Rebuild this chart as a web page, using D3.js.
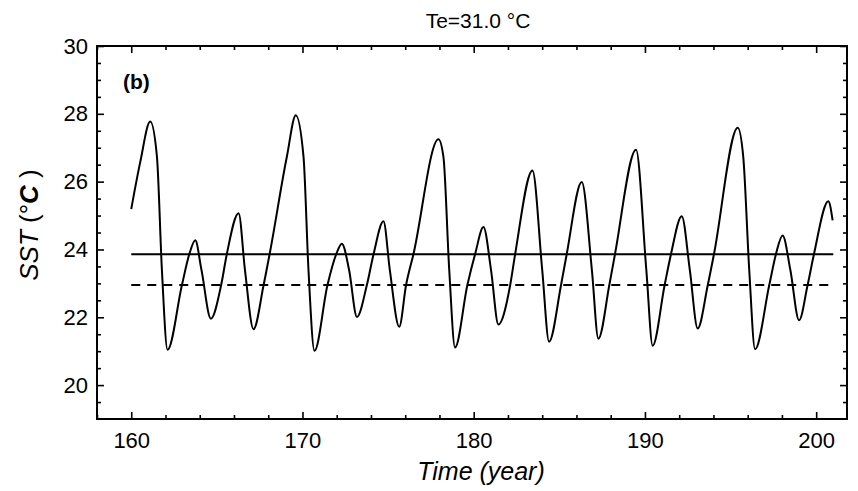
<!DOCTYPE html>
<html>
<head>
<meta charset="utf-8">
<script src="https://cdn.jsdelivr.net/npm/d3@7/dist/d3.min.js"></script>
<style>
  html, body { margin: 0; padding: 0; background: #fff; }
  svg { display: block; font-family: Arial, "Liberation Sans", sans-serif; }
</style>
</head>
<body>
<svg id="chart" width="858" height="491"></svg>
<script>
// ---- data (extrema and level crossings) ----
const years = [
  160.00, 160.53, 161.11, 161.50, 161.79, 162.12, 162.96, 163.39, 163.74, 164.10,
  164.65, 165.25, 165.58, 166.27, 166.64, 167.14, 167.73, 168.08, 169.09, 169.61,
  170.06, 170.35, 170.70, 171.46, 171.97, 172.30, 172.72, 173.18, 173.76, 174.15,
  174.73, 175.10, 175.65, 176.05, 176.48, 177.94, 178.23, 178.57, 178.91, 179.63,
  180.08, 180.57, 181.01, 181.44, 182.13, 182.42, 183.43, 184.00, 184.40, 185.10,
  185.43, 186.31, 186.90, 187.28, 187.92, 188.25, 189.48, 190.08, 190.45, 191.15,
  191.52, 192.15, 192.62, 193.08, 193.67, 194.03, 195.42, 195.74, 196.09, 196.43,
  197.26, 197.65, 198.04, 198.49, 199.00, 199.50, 199.87, 200.71, 200.96
];
const sst = [
  25.19, 26.59, 27.77, 26.74, 23.40, 21.04, 22.95, 23.86, 24.27, 23.40,
  21.96, 22.95, 23.86, 25.07, 23.40, 21.65, 22.95, 23.86, 26.74, 27.96,
  26.74, 23.40, 21.01, 22.95, 23.86, 24.17, 23.40, 22.01, 22.95, 23.86,
  24.83, 23.40, 21.72, 22.95, 23.86, 27.25, 26.74, 23.40, 21.11, 22.95,
  23.86, 24.66, 23.40, 21.79, 22.95, 23.86, 26.33, 23.40, 21.28, 22.95,
  23.86, 25.99, 23.40, 21.37, 22.95, 23.86, 26.94, 23.40, 21.16, 22.95,
  23.86, 24.98, 23.40, 21.67, 22.95, 23.86, 27.59, 26.74, 23.40, 21.06,
  22.95, 23.86, 24.41, 23.40, 21.91, 22.95, 23.86, 25.42, 24.86
];
const meanLevel = 23.86;      // solid horizontal line
const dashedLevel = 22.95;    // dashed horizontal line
const lineSpan = [160, 201];
const xTicks = [160, 170, 180, 190, 200];
const xMinor = [158, 162, 164, 166, 168, 172, 174, 176, 178, 182, 184, 186, 188, 192, 194, 196, 198];
const yTicks = [20, 22, 24, 26, 28, 30];
const yMinor = [19.5, 20.5, 21, 21.5, 22.5, 23, 23.5, 24.5, 25, 25.5, 26.5, 27, 27.5, 28.5, 29, 29.5];
const titleText = "Te=31.0 \u00B0C";
const panelLabel = "(b)";

// ---- layout ----
const svg = d3.select("#chart");
const L = 97, R = 847, T = 46, B = 419;
const x = d3.scaleLinear().domain([158, 201.8]).range([L, R]);
const y = d3.scaleLinear().domain([19, 30]).range([B, T]);

const axisStyle = g => {
  g.select(".domain").remove();
  g.selectAll(".tick line").attr("stroke", "#000").attr("stroke-width", 1.6);
  g.selectAll("text").attr("fill", "#000").attr("font-size", 22)
    .attr("font-family", "Arial, 'Liberation Sans', sans-serif");
};

// bottom
svg.append("g").attr("transform", `translate(0,${B})`)
  .call(d3.axisBottom(x).tickValues(xTicks).tickSize(-7).tickPadding(13).tickFormat(d3.format("d")))
  .call(axisStyle);
svg.append("g").attr("transform", `translate(0,${B})`)
  .call(d3.axisBottom(x).tickValues(xMinor).tickSize(-4).tickFormat(""))
  .call(axisStyle);
// top
svg.append("g").attr("transform", `translate(0,${T})`)
  .call(d3.axisTop(x).tickValues(xTicks).tickSize(-7).tickFormat(""))
  .call(axisStyle);
svg.append("g").attr("transform", `translate(0,${T})`)
  .call(d3.axisTop(x).tickValues(xMinor).tickSize(-4).tickFormat(""))
  .call(axisStyle);
// left
svg.append("g").attr("transform", `translate(${L},0)`)
  .call(d3.axisLeft(y).tickValues(yTicks).tickSize(-7).tickPadding(9).tickFormat(d3.format("d")))
  .call(axisStyle);
svg.append("g").attr("transform", `translate(${L},0)`)
  .call(d3.axisLeft(y).tickValues(yMinor).tickSize(-4).tickFormat(""))
  .call(axisStyle);
// right
svg.append("g").attr("transform", `translate(${R},0)`)
  .call(d3.axisRight(y).tickValues(yTicks).tickSize(-7).tickFormat(""))
  .call(axisStyle);
svg.append("g").attr("transform", `translate(${R},0)`)
  .call(d3.axisRight(y).tickValues(yMinor).tickSize(-4).tickFormat(""))
  .call(axisStyle);

// frame
svg.append("rect").attr("x", L).attr("y", T).attr("width", R - L).attr("height", B - T)
  .attr("fill", "none").attr("stroke", "#000").attr("stroke-width", 2);

// horizontal reference lines
svg.append("line")
  .attr("x1", x(lineSpan[0])).attr("x2", x(lineSpan[1]))
  .attr("y1", y(meanLevel)).attr("y2", y(meanLevel))
  .attr("stroke", "#000").attr("stroke-width", 2);
svg.append("line")
  .attr("x1", x(lineSpan[0])).attr("x2", x(lineSpan[1]))
  .attr("y1", y(dashedLevel)).attr("y2", y(dashedLevel))
  .attr("stroke", "#000").attr("stroke-width", 2).attr("stroke-dasharray", "9,7");

// SST curve
const pts = years.map((d, i) => [d, sst[i]]);
svg.append("path")
  .datum(pts)
  .attr("fill", "none").attr("stroke", "#000").attr("stroke-width", 2)
  .attr("stroke-linejoin", "round")
  .attr("d", d3.line().x(d => x(d[0])).y(d => y(d[1])).curve(d3.curveMonotoneX));

// texts
svg.append("text").attr("x", 478).attr("y", 28).attr("text-anchor", "middle")
  .attr("font-size", 21).text(titleText);
svg.append("text").attr("x", 123).attr("y", 89).attr("font-size", 21)
  .attr("font-weight", "bold").text(panelLabel);

const yl = svg.append("text").attr("transform", "translate(38,225) rotate(-90)")
  .attr("text-anchor", "middle").attr("font-size", 26);
yl.append("tspan").attr("font-style", "italic").text("SST");
yl.append("tspan").text(" (\u00B0");
yl.append("tspan").attr("font-style", "italic").attr("font-weight", "bold").text("C");
yl.append("tspan").text(" )");

svg.append("text").attr("x", 481).attr("y", 480).attr("text-anchor", "middle")
  .attr("font-size", 25).attr("font-style", "italic").text("Time (year)");
</script>
</body>
</html>
